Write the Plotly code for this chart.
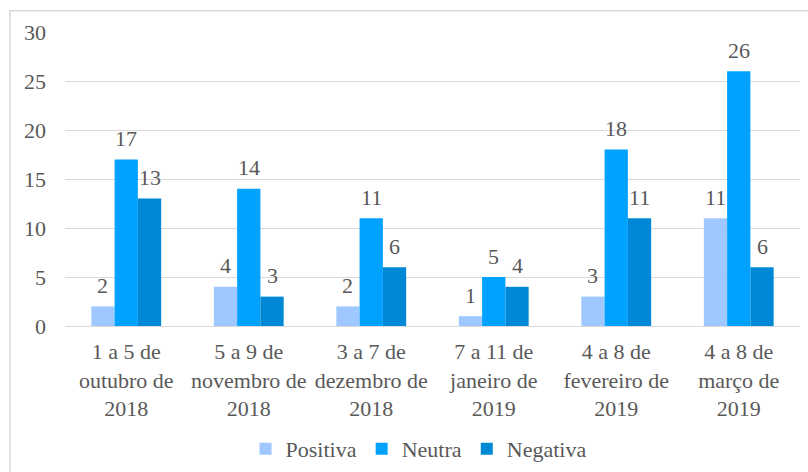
import plotly.graph_objects as go

categories = [
    "1 a 5 de<br>outubro de<br>2018",
    "5 a 9 de<br>novembro de<br>2018",
    "3 a 7 de<br>dezembro de<br>2018",
    "7 a 11 de<br>janeiro de<br>2019",
    "4 a 8 de<br>fevereiro de<br>2019",
    "4 a 8 de<br>março de<br>2019",
]
positiva = [2, 4, 2, 1, 3, 11]
neutra = [17, 14, 11, 5, 18, 26]
negativa = [13, 3, 6, 4, 11, 6]

series = [
    ("Positiva", positiva, "#9EC8FF"),
    ("Neutra", neutra, "#00A2FF"),
    ("Negativa", negativa, "#0088D6"),
]

FONT = "'Times New Roman', 'Liberation Serif', serif"
TXT = "#595959"
FS = 22

W, H = 808, 472
ML, MR, MT, MB = 65, 8, 32, 146
BARGAP = 0.43
cat_w = (W - ML - MR) / len(categories)
bar_w = cat_w * (1 - BARGAP) / len(series)

fig = go.Figure()
annotations = []
for i, (name, vals, col) in enumerate(series):
    fig.add_trace(go.Bar(
        x=categories, y=vals, name=name, marker=dict(color=col, line=dict(width=0)),
        cliponaxis=False, hoverinfo="x+y+name",
    ))
    shift = (i - (len(series) - 1) / 2) * bar_w
    for c, v in zip(categories, vals):
        annotations.append(dict(
            x=c, y=v, xref="x", yref="y", text=str(v), showarrow=False,
            xshift=shift, yshift=21, yanchor="middle", xanchor="center",
            font=dict(family=FONT, size=FS, color=TXT),
        ))

fig.update_layout(
    width=W, height=H,
    margin=dict(l=ML, r=MR, t=MT, b=MB, autoexpand=False),
    paper_bgcolor="white", plot_bgcolor="white",
    barmode="group", bargap=BARGAP, bargroupgap=0,
    font=dict(family=FONT, size=FS, color=TXT),
    showlegend=True,
    legend=dict(orientation="h", xref="container", yref="container", x=0.518, xanchor="center",
                y=0.049, yanchor="middle",
                font=dict(family=FONT, size=FS, color=TXT), itemwidth=30, traceorder="normal"),
    xaxis=dict(showgrid=False, showline=False, ticks="", tickfont=dict(family=FONT, size=FS, color=TXT),
               ticklabelstandoff=10, automargin=False),
    yaxis=dict(range=[0, 30], dtick=5, showgrid=True, gridcolor="#D9D9D9", gridwidth=1,
               zeroline=True, zerolinecolor="#D9D9D9", zerolinewidth=1, showline=False, ticks="",
               tickfont=dict(family=FONT, size=FS, color=TXT), ticklabelstandoff=18, automargin=False),
    annotations=annotations,
    shapes=[dict(type="rect", xref="paper", yref="paper", x0=-0.0748, y0=-0.6, x1=1.2, y1=1.072,
                 line=dict(color="#D9D9D9", width=1.5), fillcolor="rgba(0,0,0,0)", layer="below")],
)

fig.write_html("out.html", config={"displayModeBar": False},
               post_script="document.body.style.margin='0';")
